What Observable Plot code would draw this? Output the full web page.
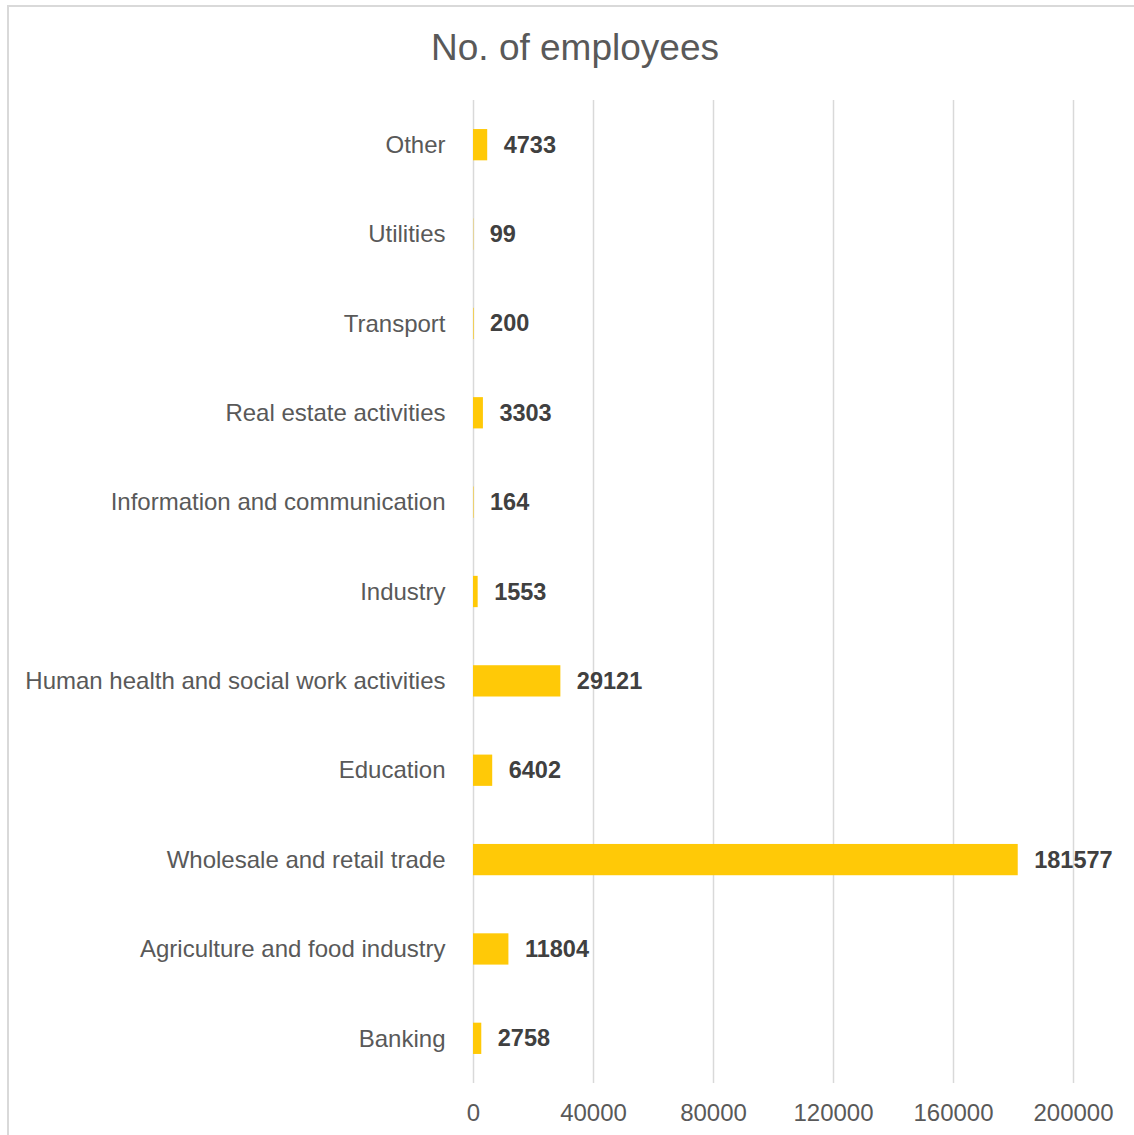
<!DOCTYPE html>
<html>
<head>
<meta charset="utf-8">
<script src="https://cdn.jsdelivr.net/npm/d3@7"></script>
<script src="https://cdn.jsdelivr.net/npm/@observablehq/plot@0.6"></script>
<style>
  html, body { margin: 0; padding: 0; background: #fff; overflow: hidden; }
  body { width: 1134px; height: 1135px; position: relative; font-family: "Liberation Sans", Arial, sans-serif; }
  #frame { position: absolute; left: 7px; top: 5px; width: 1136px; height: 1140px; border: 2px solid #d9d9d9; box-sizing: border-box; }
  #title { position: absolute; left: 7px; width: 1136px; top: 26px; text-align: center; font-size: 37px; color: #595959; line-height: 44px; }
  #chart { position: absolute; left: 0; top: 100px; }
</style>
</head>
<body>
<div id="frame"></div>
<div id="title">No. of employees</div>
<div id="chart"></div>
<script>
const categories = ["Other", "Utilities", "Transport", "Real estate activities", "Information and communication", "Industry", "Human health and social work activities", "Education", "Wholesale and retail trade", "Agriculture and food industry", "Banking"];
const values = [4733, 99, 200, 3303, 164, 1553, 29121, 6402, 181577, 11804, 2758];
const xTicks = [0, 40000, 80000, 120000, 160000, 200000];

const data = categories.map((c, i) => ({category: c, value: values[i]}));

const chart = Plot.plot({
  width: 1134,
  height: 1035,
  marginLeft: 473,
  marginRight: 61,
  marginTop: 0,
  marginBottom: 52,
  style: {fontFamily: "'Liberation Sans', Arial, sans-serif", fontSize: "24px", color: "#595959", background: "transparent"},
  x: {domain: [0, 200000], ticks: xTicks, tickFormat: d => String(d), label: null},
  y: {domain: categories, label: null, paddingInner: 0.65, paddingOuter: 0.325, round: false},
  marks: [
    Plot.gridX(xTicks, {stroke: "#d9d9d9", strokeOpacity: 1, strokeWidth: 1.5}),
    Plot.barX(data, {x: "value", y: "category", fill: "#ffc907"}),
    Plot.text(data, {x: "value", y: "category", text: d => String(d.value), dx: 16, textAnchor: "start", fill: "#404040", fontWeight: "bold", fontSize: 23.5}),
    Plot.axisX(xTicks, {tickSize: 0, tickPadding: 20, fill: "#595959", fontSize: 24, tickFormat: d => String(d), label: null}),
    Plot.axisY({tickSize: 0, tickPadding: 28, fill: "#595959", fontSize: 24, label: null})
  ]
});
document.getElementById("chart").appendChild(chart);
</script>
</body>
</html>
